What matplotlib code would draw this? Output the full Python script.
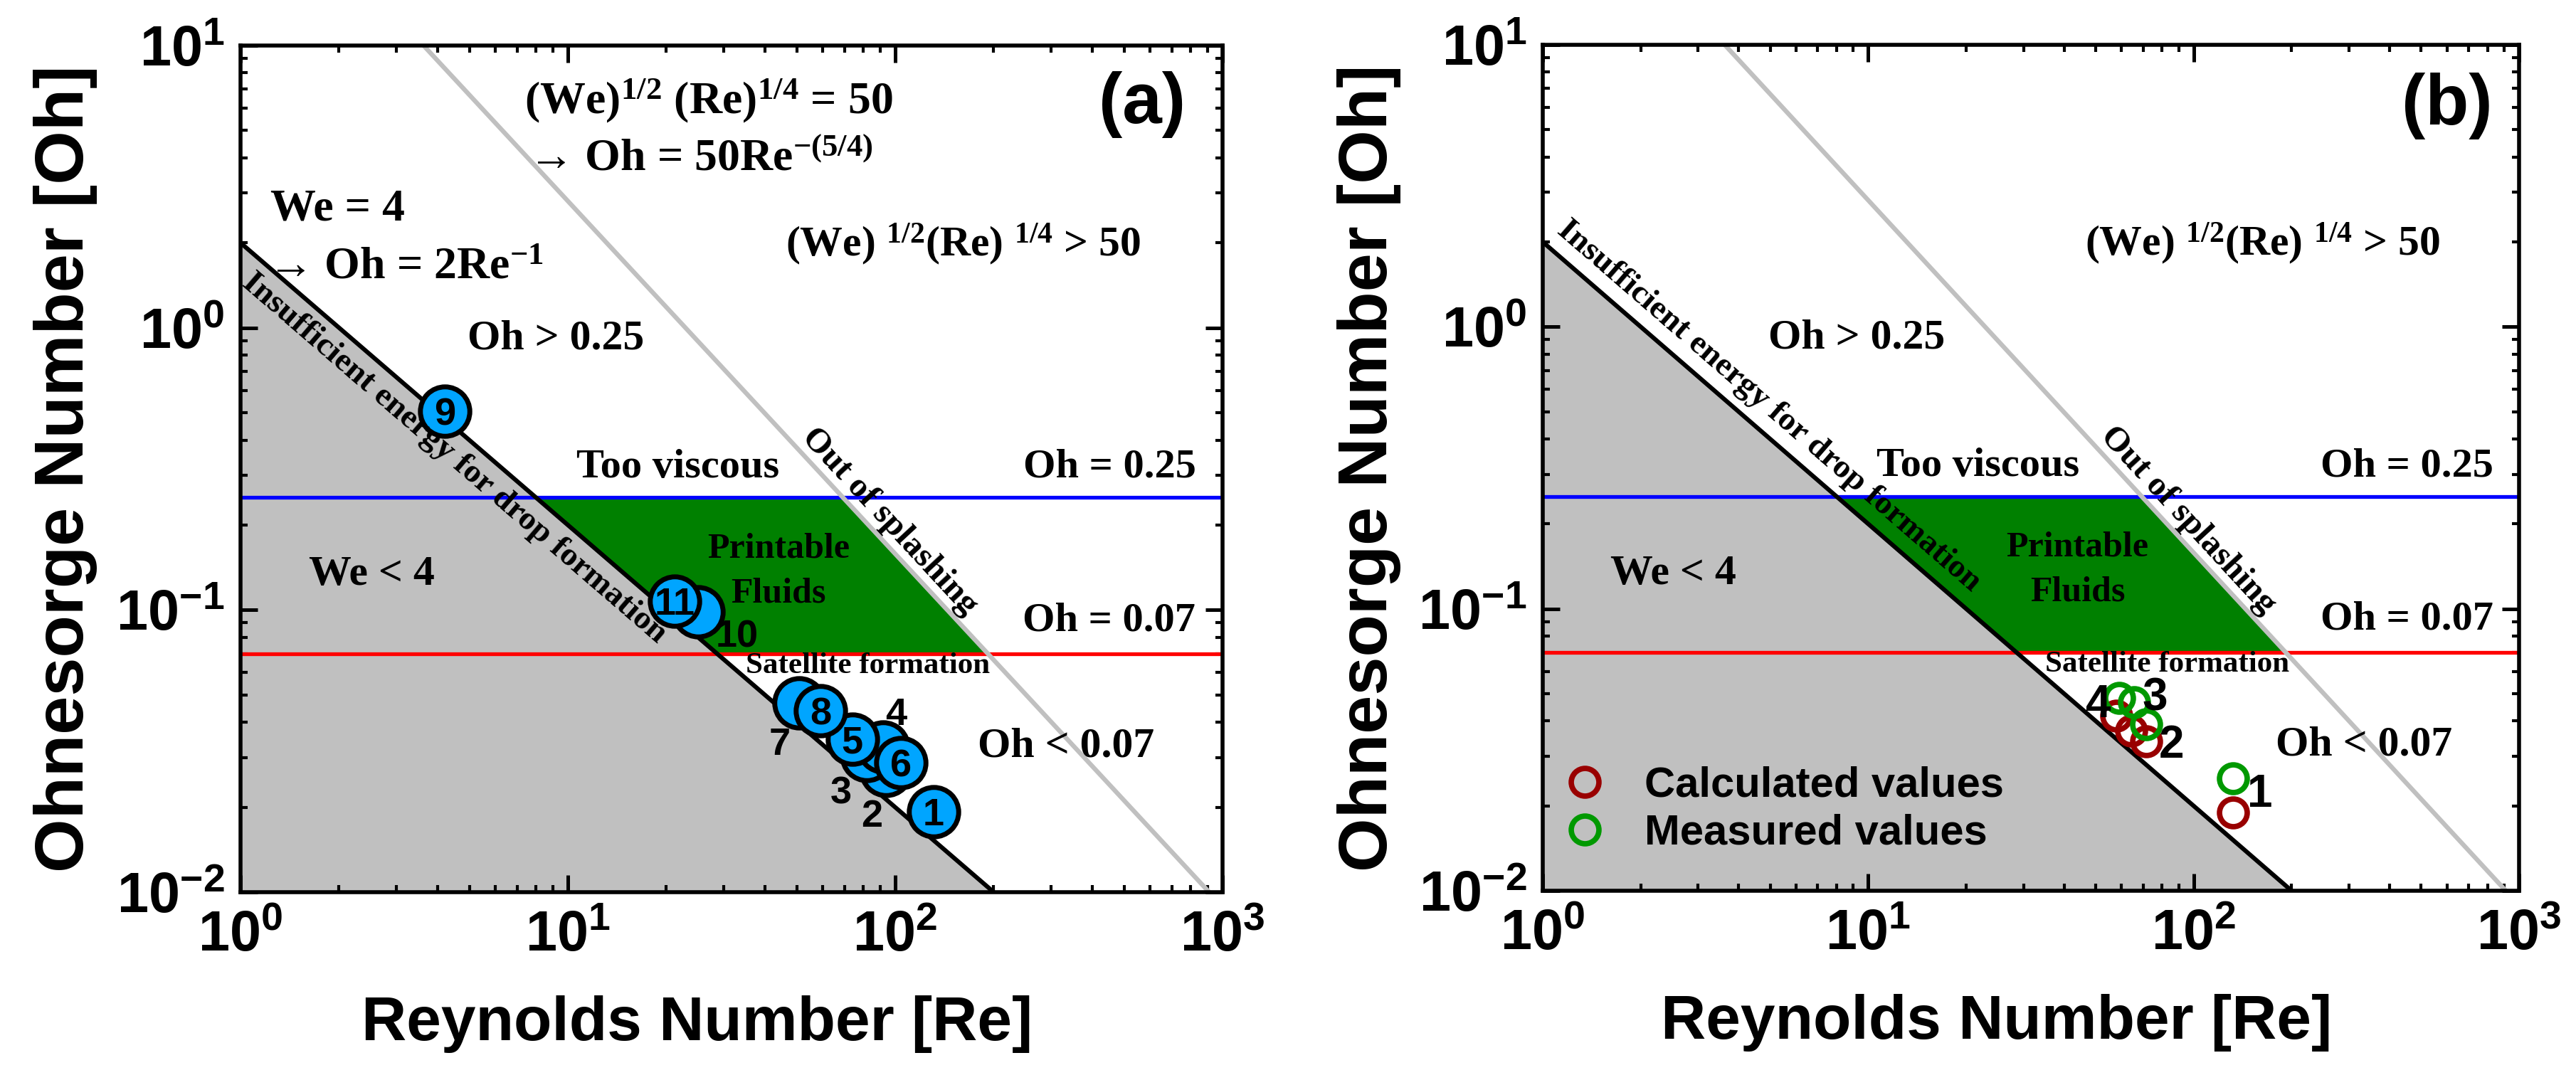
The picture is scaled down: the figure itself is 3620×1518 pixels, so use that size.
import numpy as np
import matplotlib
matplotlib.use("Agg")
import matplotlib.pyplot as plt
from matplotlib.ticker import LogLocator, FuncFormatter, NullFormatter

# ---------------- data ----------------
# regime boundaries
WE_COEF = 2.0          # We = 4  -> Oh = 2 Re^-1
SPLASH_COEF = 50.0     # Oh = 50 Re^-(5/4)
SPLASH_EXP = -1.25
OH_HIGH = 0.25
OH_LOW = 0.07

# panel (a): fluids 1..11
a_ids = ["1", "2", "3", "4", "5", "6", "7", "8", "9", "10", "11"]
a_re = [131, 93.6, 81.9, 91.8, 74.0, 104, 50.8, 59.1, 4.2, 25.0, 21.2]
a_oh = [0.0193, 0.0270, 0.0305, 0.0326, 0.0348, 0.0288, 0.0469, 0.0439, 0.505, 0.0985, 0.1076]
a_inside = ["1", "5", "6", "8", "9", "11"]          # numbers written inside the circle
a_out_ids = ["10", "7", "4", "3", "2"]              # numbers written beside the circle
a_out_re = [32.8, 44.4, 100.6, 68.3, 84.7]
a_out_oh = [0.0826, 0.0344, 0.0439, 0.0231, 0.0191]

# panel (b): calculated vs measured, fluids 1..4
b_ids = ["1", "2", "3", "4"]
b_calc_re = [132, 71.6, 64.3, 58.0]
b_calc_oh = [0.0189, 0.0338, 0.0369, 0.0417]
b_meas_re = [132, 71.6, 65.5, 59.1]
b_meas_oh = [0.0250, 0.0390, 0.0466, 0.0482]
b_lab_re = [160, 85.3, 75.9, 51.0]
b_lab_oh = [0.0227, 0.0340, 0.0500, 0.0472]

# ---------------- style ----------------
plt.rcParams["font.family"] = ["Liberation Sans", "DejaVu Sans"]
plt.rcParams["font.weight"] = "bold"
plt.rcParams["mathtext.fontset"] = "custom"
plt.rcParams["mathtext.rm"] = "Liberation Serif:bold"
plt.rcParams["mathtext.it"] = "Liberation Serif:bold"
plt.rcParams["mathtext.bf"] = "Liberation Serif:bold"
plt.rcParams["mathtext.sf"] = "Liberation Sans:bold"

SERIF = dict(family=["Liberation Serif", "DejaVu Serif"], weight="bold")
GREY = "#C0C0C0"
GREEN = "#008000"

W, H = 3620, 1518
fig = plt.figure(figsize=(W / 100, H / 100), dpi=100)
ax_a = fig.add_axes([338 / W, 1 - 1254 / H, 1380 / W, 1190 / H])
ax_b = fig.add_axes([2168 / W, 1 - 1252 / H, 1372 / W, 1189 / H])


def line_angle(ax, x0, y0, x1, y1):
    p0 = ax.transData.transform((x0, y0))
    p1 = ax.transData.transform((x1, y1))
    return np.degrees(np.arctan2(p1[1] - p0[1], p1[0] - p0[0]))


def setup(ax):
    ax.set_xscale("log")
    ax.set_yscale("log")
    ax.set_xlim(1, 1000)
    ax.set_ylim(0.01, 10)
    fmt = FuncFormatter(lambda v, p: r"$\mathsf{10^{%d}}$" % int(round(np.log10(v))))
    ax.xaxis.set_major_locator(LogLocator(base=10, numticks=10))
    ax.yaxis.set_major_locator(LogLocator(base=10, numticks=10))
    ax.xaxis.set_minor_locator(LogLocator(base=10, subs=np.arange(2, 10), numticks=20))
    ax.yaxis.set_minor_locator(LogLocator(base=10, subs=np.arange(2, 10), numticks=20))
    ax.xaxis.set_major_formatter(fmt)
    ax.yaxis.set_major_formatter(fmt)
    ax.xaxis.set_minor_formatter(NullFormatter())
    ax.yaxis.set_minor_formatter(NullFormatter())
    ax.tick_params(which="both", direction="in", top=True, right=True)
    ax.tick_params(which="major", length=17, width=3.6, labelsize=57)
    ax.tick_params(which="minor", length=7.5, width=3.0)
    ax.tick_params(axis="x", which="major", pad=18)
    ax.tick_params(axis="y", which="major", pad=16)
    for s in ax.spines.values():
        s.set_linewidth(4.0)
        s.set_zorder(10)

    # regions
    re_end = WE_COEF / 0.01
    ax.fill([1, re_end, 1], [WE_COEF, 0.01, 0.01], color=GREY, lw=0, zorder=1)
    re_hl = WE_COEF / OH_HIGH
    re_hr = (SPLASH_COEF / OH_HIGH) ** (1 / -SPLASH_EXP)
    re_lr = (SPLASH_COEF / OH_LOW) ** (1 / -SPLASH_EXP)
    re_ll = WE_COEF / OH_LOW
    ax.fill([re_hl, re_hr, re_lr, re_ll], [OH_HIGH, OH_HIGH, OH_LOW, OH_LOW],
            color=GREEN, lw=0, zorder=1.5)
    ax.axhline(OH_HIGH, color="#0000FF", lw=3.8, zorder=3)
    ax.axhline(OH_LOW, color="#FF0000", lw=3.8, zorder=3)
    ax.plot([1, re_end], [WE_COEF, 0.01], color="k", lw=4.4, zorder=4,
            solid_capstyle="butt")
    re_top = (SPLASH_COEF / 10) ** (1 / -SPLASH_EXP)
    re_bot = (SPLASH_COEF / 0.01) ** (1 / -SPLASH_EXP)
    ax.plot([re_top, re_bot], [10, 0.01], color=GREY, lw=4.6, zorder=4,
            solid_capstyle="butt")

    # shared annotations
    common = [
        ("Oh > 0.25", 4.94, 0.841, 43),
        ("(We) $^{1/2}$(Re) $^{1/4}$ > 50", 46.3, 1.80, 43),
        ("Too viscous", 10.6, 0.295, 42),
        ("Oh = 0.25", 246, 0.295, 42),
        ("Oh = 0.07", 245, 0.0846, 42),
        ("Oh < 0.07", 178.7, 0.0302, 43),
        ("We < 4", 1.617, 0.1225, 43),
        ("Satellite formation", 35.0, 0.0598, 31),
    ]
    for s, x, y, fs in common:
        ax.text(x, y, s, fontsize=fs, ha="left", va="baseline", zorder=8, **SERIF)
    ax.text(44.0, 0.1535, "Printable", fontsize=36, ha="center", va="baseline",
            zorder=8, **SERIF)
    ax.text(44.0, 0.1066, "Fluids", fontsize=36, ha="center", va="baseline",
            zorder=8, **SERIF)
    ang_g = line_angle(ax, re_top, 10, re_bot, 0.01)
    ax.text(96.1, 0.206, "Out of splashing", fontsize=35, rotation=ang_g,
            rotation_mode="anchor", ha="center", va="center", zorder=8, **SERIF)
    return line_angle(ax, 1, WE_COEF, re_end, 0.01)


# ---------------- panel (a) ----------------
ang_k = setup(ax_a)
ax_a.text(4.49, 0.345, "Insufficient energy for drop formation", fontsize=34,
          rotation=ang_k, rotation_mode="anchor", ha="center", va="center",
          zorder=8, **SERIF)
ax_a.text(7.37, 5.74, "(We)$^{1/2}$ (Re)$^{1/4}$ = 50", fontsize=46,
          ha="left", va="baseline", zorder=8, **SERIF)
ax_a.text(7.55, 3.61, "\u2192 Oh = 50Re$^{-(5/4)}$", fontsize=46,
          ha="left", va="baseline", zorder=8, **SERIF)
ax_a.text(1.234, 2.41, "We = 4", fontsize=46, ha="left", va="baseline",
          zorder=8, **SERIF)
ax_a.text(1.21, 1.49, "\u2192 Oh = 2Re$^{-1}$", fontsize=46, ha="left",
          va="baseline", zorder=8, **SERIF)
ax_a.text(0.918, 0.930, "(a)", transform=ax_a.transAxes, fontsize=72,
          ha="center", va="center", zorder=8)

for i, re, oh in zip(a_ids, a_re, a_oh):
    z = 6 if i in a_inside else 5
    ax_a.plot([re], [oh], "o", ms=50, mfc="#00A5FF", mec="k", mew=5, zorder=z)
    if i in a_inside:
        ax_a.text(re, oh, i, fontsize=39, ha="center", va="center_baseline",
                  zorder=7)
for i, re, oh in zip(a_out_ids, a_out_re, a_out_oh):
    ax_a.text(re, oh, i, fontsize=39, ha="center", va="center_baseline", zorder=7)

# ---------------- panel (b) ----------------
ang_k = setup(ax_b)
ax_b.text(4.96, 0.523, "Insufficient energy for drop formation", fontsize=34,
          rotation=ang_k, rotation_mode="anchor", ha="center", va="center",
          zorder=8, **SERIF)
ax_b.text(0.926, 0.928, "(b)", transform=ax_b.transAxes, fontsize=72,
          ha="center", va="center", zorder=8)
ax_b.plot(b_calc_re, b_calc_oh, "o", ls="none", ms=28, mfc="none", mec="#990000",
          mew=5.5, zorder=6, label="Calculated values")
ax_b.plot(b_meas_re, b_meas_oh, "o", ls="none", ms=28, mfc="none", mec="#009900",
          mew=5.5, zorder=6.5, label="Measured values")
for i, re, oh in zip(b_ids, b_lab_re, b_lab_oh):
    ax_b.text(re, oh, i, fontsize=46, ha="center", va="center_baseline", zorder=7)
ax_b.legend(loc="center left", bbox_to_anchor=(0.0215, 0.0963), frameon=False,
            prop=dict(family="Liberation Sans", weight="bold", size=43),
            handlelength=1.0, handletextpad=0.9, borderpad=0, borderaxespad=0,
            labelspacing=0.2, numpoints=1)

for ax in (ax_a, ax_b):
    ax.set_xlabel("Reynolds Number [Re]", fontsize=63, fontweight="bold", va="center")
    ax.xaxis.set_label_coords(0.465, -0.156)
    ax.set_ylabel("Ohnesorge Number [Oh]", fontsize=70, fontweight="bold", va="center")
    ax.yaxis.set_label_coords(-0.178, 0.5)

fig.savefig("out.png", dpi=100)
